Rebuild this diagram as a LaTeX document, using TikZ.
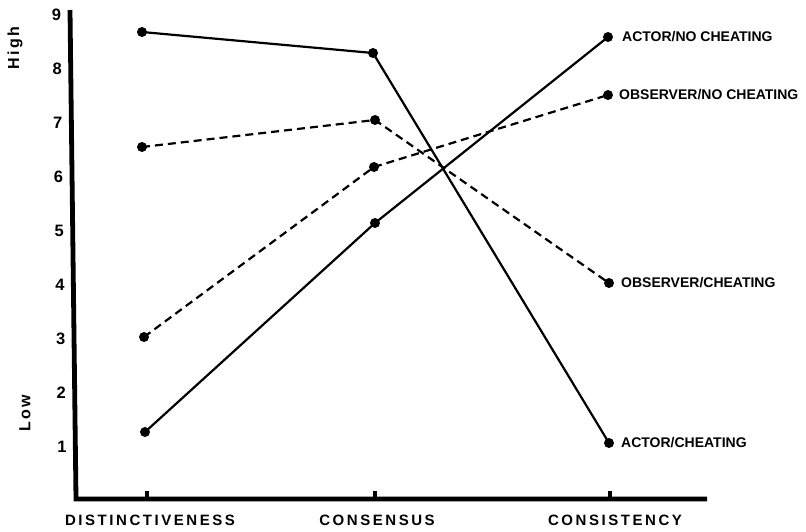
\documentclass[tikz,border=0pt]{standalone}
\usepackage{fontspec}
\setmainfont{Liberation Sans}
\newfontfamily\axfont[LetterSpace=17]{Liberation Sans}
\newfontfamily\hlfont[LetterSpace=15]{Liberation Sans}
\begin{document}
\begin{tikzpicture}[x=1pt,y=-1pt,
  axisline/.style={line width=4.8pt},
  dataline/.style={line width=2.2pt},
  dashline/.style={line width=2.2pt,dash pattern=on 8pt off 5pt},
  dot/.style={circle,fill=black,inner sep=0pt,minimum size=10pt},
  num/.style={font=\fontsize{16.5}{18}\selectfont\bfseries},
  cat/.style={font=\axfont\fontsize{15}{17}\selectfont\bfseries},
  lab/.style={anchor=west,inner sep=0pt,font=\fontsize{14}{16}\selectfont\bfseries},
  hl/.style={rotate=90,font=\hlfont\fontsize{16}{18}\selectfont\bfseries}]
\useasboundingbox (0,0) rectangle (806,531);
% axes
\coordinate (ytop) at (70,10);
\coordinate (orig) at (76,499);
\coordinate (xend) at (707,499);
\draw[axisline,line join=miter] (ytop) -- (orig) -- (xend);
% ticks
\foreach \x/\n in {147/t1,375/t2,610/t3}{
  \fill (\x-1.8,499) rectangle (\x+1.8,491);
}
% y labels
\foreach \v in {1,...,9}{
  \node[num] (y\v) at ({62-(\v-1)*0.7},{15+(9-\v)*54}) {\v};
}
\node[hl] (high) at (15,48) {High};
\node[hl] (low) at (25,413) {Low};
% x labels
\node[cat] (xl1) at (150,520) {DISTINCTIVENESS};
\node[cat] (xl2) at (377,520) {CONSENSUS};
\node[cat] (xl3) at (615,520) {CONSISTENCY};
% data points
\node[dot] (a1) at (145,432) {};
\node[dot] (a2) at (375,223) {};
\node[dot] (a3) at (608,37) {};
\node[dot] (b1) at (142,32) {};
\node[dot] (b2) at (373,53) {};
\node[dot] (b3) at (609,443) {};
\node[dot] (c1) at (142,147) {};
\node[dot] (c2) at (375,120) {};
\node[dot] (c3) at (609,283) {};
\node[dot] (d1) at (144,337) {};
\node[dot] (d2) at (374,167) {};
\node[dot] (d3) at (608,95) {};
\draw[dataline] (a1.center) -- (a2.center) -- (a3.center);
\draw[dataline] (b1.center) -- (b2.center) -- (b3.center);
\draw[dashline] (c1.center) -- (c2.center) -- (c3.center);
\draw[dashline] (d1.center) -- (d2.center) -- (d3.center);
% labels
\node[lab] (la) at (622,37) {ACTOR/NO CHEATING};
\node[lab] (ld) at (619,95) {OBSERVER/NO CHEATING};
\node[lab] (lc) at (621,283) {OBSERVER/CHEATING};
\node[lab] (lb) at (621,443) {ACTOR/CHEATING};
\end{tikzpicture}
\end{document}
